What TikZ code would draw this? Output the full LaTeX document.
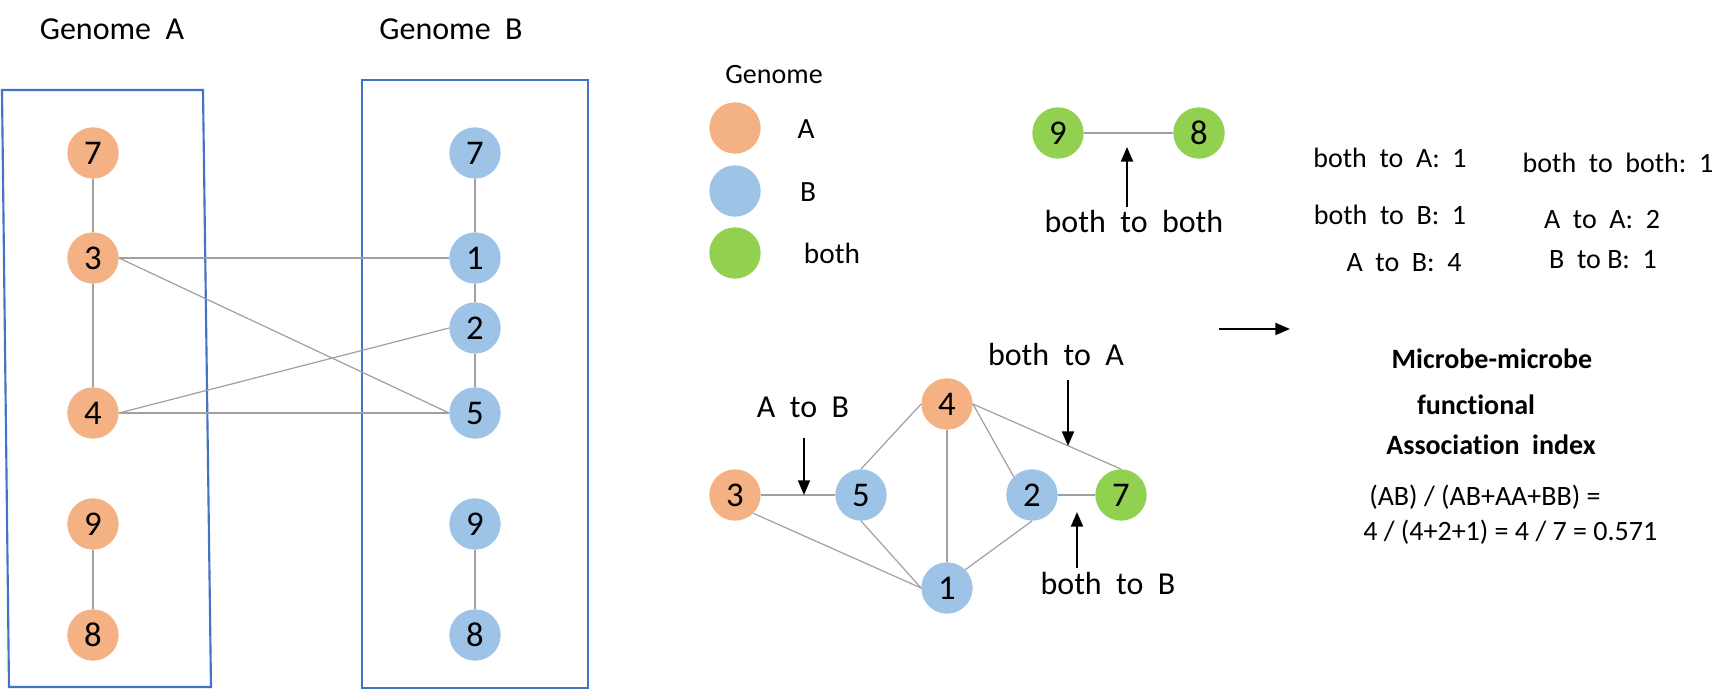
\documentclass[tikz,border=0pt]{standalone}
\usepackage{fontspec}
\setmainfont{Carlito}[Ligatures=NoCommon]
\usetikzlibrary{arrows.meta}
\definecolor{orA}{RGB}{244,177,131}
\definecolor{blB}{RGB}{157,195,230}
\definecolor{grC}{RGB}{146,208,80}
\definecolor{boxblue}{RGB}{68,114,196}
\definecolor{edgegray}{RGB}{160,160,160}
\tikzset{
  vtx/.style={circle, minimum size=38.5pt, inner sep=0pt, font=\fontsize{26}{31}\selectfont},
  va/.style={vtx, fill=orA},
  vb/.style={vtx, fill=blB},
  vc/.style={vtx, fill=grC},
  edge/.style={draw=edgegray, line width=0.9pt},
  gbox/.style={draw=boxblue, line width=1.6pt},
  title/.style={font=\fontsize{24}{29}\selectfont, inner sep=0pt},
  lbl/.style={font=\fontsize{24}{29}\selectfont, inner sep=0pt},
  leg/.style={font=\fontsize{22}{26}\selectfont, inner sep=0pt},
  txt/.style={font=\fontsize{21}{25}\selectfont, inner sep=0pt},
  btxt/.style={font=\fontsize{21}{25}\selectfont\bfseries, inner sep=0pt},
  arr/.style={draw=black, line width=1.5pt, -{Triangle[length=11pt,width=9pt]}},
}
\begin{document}
\begin{tikzpicture}[x=0.75pt,y=-0.75pt]
\useasboundingbox (0,0) rectangle (1729,691);
\fill[white] (0,0) rectangle (1729,691);

% ---------- left panel ----------
\node[title] (tA) at (112,29) {Genome\ \ A};
\node[title] (tB) at (451,29) {Genome\ \ B};
\draw[gbox] (2,90) -- (203,90) -- (211,687) -- (9,687) -- cycle;
\draw[gbox] (362,80) rectangle (588,688);

\node[va] (a7) at (93,153) {7};
\node[va] (a3) at (93,258) {3};
\node[va] (a4) at (93,413) {4};
\node[va] (a9) at (93,524) {9};
\node[va] (a8) at (93,635) {8};

\node[vb] (b7) at (475,153) {7};
\node[vb] (b1) at (475,258) {1};
\node[vb] (b2) at (475,328) {2};
\node[vb] (b5) at (475,413) {5};
\node[vb] (b9) at (475,524) {9};
\node[vb] (b8) at (475,635) {8};

\draw[edge] (a7.south) -- (a3.north);
\draw[edge] (a3.south) -- (a4.north);
\draw[edge] (a9.south) -- (a8.north);
\draw[edge] (b7.south) -- (b1.north);
\draw[edge] (b1.south) -- (b2.north);
\draw[edge] (b2.south) -- (b5.north);
\draw[edge] (b9.south) -- (b8.north);
\draw[edge] (a3.east) -- (b1.west);
\draw[edge] (a3.east) -- (b5.west);
\draw[edge] (a4.east) -- (b2.west);
\draw[edge] (a4.east) -- (b5.west);

% ---------- legend ----------
\node[txt] (lgt) at (774,75) {Genome};
\node[vtx, fill=orA] (lgA) at (735,128) {};
\node[vtx, fill=blB] (lgB) at (735,191) {};
\node[vtx, fill=grC] (lgC) at (735,253) {};
\node[leg] (lgAt) at (806,129) {A};
\node[leg] (lgBt) at (808,192) {B};
\node[leg] (lgCt) at (832,253) {both};

% ---------- both-both pair ----------
\node[vc] (g9) at (1058,133) {9};
\node[vc] (g8) at (1199,133) {8};
\draw[edge] (g9.east) -- (g8.west);
\node[lbl] (bb) at (1134,222) {both\ \ to\ \ both};
\coordinate (bbT) at (1127,207);
\coordinate (bbH) at (1127,147);
\draw[arr] (bbT) -- (bbH);

% ---------- network ----------
\node[va] (n3) at (735,495) {3};
\node[vb] (n5) at (861,495) {5};
\node[va] (n4) at (947,404) {4};
\node[vb] (n2) at (1032,495) {2};
\node[vc] (n7) at (1121,495) {7};
\node[vb] (n1) at (947,588) {1};

\draw[edge] (n3.east) -- (n5.west);
\draw[edge] (n2.east) -- (n7.west);
\draw[edge] (n4.west) -- (n5.north);
\draw[edge] (n4.east) -- (n7.north);
\draw[edge] (n4.east) -- (n2.north west);
\draw[edge] (n4.south) -- (n1.north);
\draw[edge] (n3.south east) -- (n1.west);
\draw[edge] (n5.south) -- (n1.west);
\draw[edge] (n2.south) -- (n1.north east);

\node[lbl] (lAB) at (803,407) {A\ \ to\ \ B};
\coordinate (abT) at (804,438);
\coordinate (abH) at (804,495);
\draw[arr] (abT) -- (abH);

\node[lbl] (lbA) at (1056,355) {both\ \ to\ \ A};
\coordinate (baT) at (1068,380);
\coordinate (baH) at (1068,446);
\draw[arr] (baT) -- (baH);

\node[lbl] (lbB) at (1108,584) {both\ \ to\ \ B};
\coordinate (bbbT) at (1077,568);
\coordinate (bbbH) at (1077,512);
\draw[arr] (bbbT) -- (bbbH);

% ---------- big arrow ----------
\coordinate (bigT) at (1219,329);
\coordinate (bigH) at (1290,329);
\draw[arr] (bigT) -- (bigH);

% ---------- counts ----------
\node[txt] (c1) at (1390,158) {both\ \ to\ \ A:\ \ 1};
\node[txt] (c2) at (1390,215) {both\ \ to\ \ B:\ \ 1};
\node[txt] (c3) at (1404,263) {A\ \ to\ \ B:\ \ 4};
\node[txt] (c4) at (1618,163) {both\ \ to\ \ both:\ \ 1};
\node[txt] (c5) at (1602,220) {A\ \ to\ \ A:\ \ 2};
\node[txt] (c6) at (1603,260) {B\ \ to B:\ \ 1};

% ---------- index ----------
\node[btxt] (h1) at (1492,359) {Microbe-microbe};
\node[btxt] (h2) at (1476,405) {functional};
\node[btxt] (h3) at (1491,445) {Association\ \ index};
\node[txt, anchor=west] (f1) at (1369,497) {(AB) / (AB+AA+BB) =};
\node[txt, anchor=west] (f2) at (1363,532) {4 / (4+2+1) = 4 / 7 = 0.571};
\end{tikzpicture}
\end{document}
